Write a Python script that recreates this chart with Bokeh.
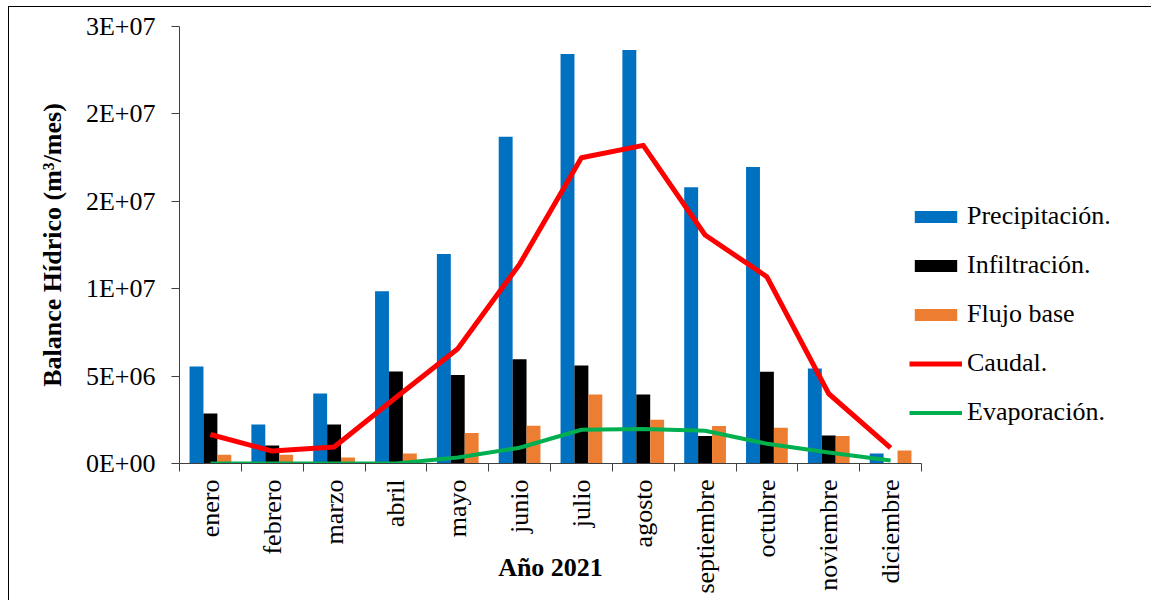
import math
from bokeh.plotting import figure
from bokeh.models import ColumnDataSource, FixedTicker, Legend, LegendItem
from bokeh.transform import dodge
from bokeh.embed import file_html
from bokeh.resources import INLINE

meses = ["enero", "febrero", "marzo", "abril", "mayo", "junio", "julio",
         "agosto", "septiembre", "octubre", "noviembre", "diciembre"]
precipitacion = [5.55e6, 2.23e6, 4.0e6, 9.86e6, 11.98e6, 18.69e6, 23.42e6,
                 23.65e6, 15.81e6, 16.96e6, 5.43e6, 0.57e6]
infiltracion = [2.86e6, 1.03e6, 2.23e6, 5.26e6, 5.06e6, 5.97e6, 5.6e6,
                3.95e6, 1.57e6, 5.25e6, 1.6e6, 0.0]
flujo_base = [0.5e6, 0.5e6, 0.34e6, 0.57e6, 1.74e6, 2.16e6, 3.95e6,
              2.5e6, 2.14e6, 2.04e6, 1.58e6, 0.74e6]
caudal = [1.66e6, 0.71e6, 0.94e6, 3.78e6, 6.56e6, 11.4e6, 17.49e6,
          18.2e6, 13.07e6, 10.68e6, 3.99e6, 0.9e6]
evaporacion = [0.0, 0.0, 0.0, 0.0, 0.34e6, 0.9e6, 1.93e6,
               1.98e6, 1.87e6, 1.13e6, 0.63e6, 0.17e6]
y_ticks = [0, 5e6, 1e7, 1.5e7, 2e7, 2.5e7]
y_tick_labels = ["0E+00", "5E+06", "1E+07", "2E+07", "2E+07", "3E+07"]

FONT = "Liberation Serif"
AXIS_COLOR = "#404040"

xpos = [i + 0.5 for i in range(len(meses))]
src = ColumnDataSource(dict(x=xpos, mes=meses, prec=precipitacion, inf=infiltracion,
                            fb=flujo_base, caudal=caudal, evap=evaporacion))

p = figure(frame_width=742, frame_height=437, min_border_left=170, min_border_top=19,
           min_border_right=229, min_border_bottom=138,
           x_range=(0, 12), y_range=(0, 2.5e7),
           output_backend="svg", toolbar_location=None)
p.styles = {"border": "1px solid #000000", "box-sizing": "border-box",
            "margin-left": "8px", "margin-top": "6px"}

bw = 0.225
r_prec = p.vbar(x=dodge("x", -bw, range=p.x_range), top="prec", width=bw, source=src,
                fill_color="#0070C0", line_color=None)
r_inf = p.vbar(x=dodge("x", 0, range=p.x_range), top="inf", width=bw, source=src,
               fill_color="#000000", line_color=None)
r_fb = p.vbar(x=dodge("x", bw, range=p.x_range), top="fb", width=bw, source=src,
              fill_color="#ED7D31", line_color=None)
r_caudal = p.line(x="x", y="caudal", source=src, line_color="#FF0000", line_width=5,
                  line_join="round")
r_evap = p.line(x="x", y="evap", source=src, line_color="#00B050", line_width=4,
                line_join="round")

p.xgrid.visible = False
p.ygrid.visible = False
p.outline_line_color = None

# x axis
xa = p.xaxis[0]
xa.ticker = FixedTicker(ticks=xpos, minor_ticks=list(range(13)))
xa.major_label_overrides = {x: m for x, m in zip(xpos, meses)}
xa.major_label_orientation = math.pi / 2
xa.major_tick_out = 0
xa.major_tick_in = 0
xa.minor_tick_out = 8
xa.minor_tick_in = 0
xa.minor_tick_line_color = AXIS_COLOR
xa.axis_line_color = AXIS_COLOR
xa.major_label_standoff = 8
xa.major_label_text_font = FONT
xa.major_label_text_font_size = "26px"
xa.major_label_text_color = "#000000"
xa.axis_label = "Año 2021"
xa.axis_label_text_font = FONT
xa.axis_label_text_font_size = "26px"
xa.axis_label_text_font_style = "bold"
xa.axis_label_text_color = "#000000"
xa.axis_label_standoff = -44

# y axis
ya = p.yaxis[0]
ya.ticker = FixedTicker(ticks=y_ticks, minor_ticks=[])
ya.major_label_overrides = {t: l for t, l in zip(y_ticks, y_tick_labels)}
ya.major_tick_out = 8
ya.major_tick_in = 0
ya.major_tick_line_color = AXIS_COLOR
ya.axis_line_color = AXIS_COLOR
ya.major_label_standoff = 16
ya.major_label_text_font = FONT
ya.major_label_text_font_size = "26px"
ya.major_label_text_color = "#000000"
ya.axis_label = "Balance Hídrico (m³/mes)"
ya.axis_label_text_font = FONT
ya.axis_label_text_font_size = "26px"
ya.axis_label_text_font_style = "bold"
ya.axis_label_text_color = "#000000"
ya.axis_label_standoff = 16

legend = Legend(items=[
    LegendItem(label="Precipitación.", renderers=[r_prec]),
    LegendItem(label="Infiltración.", renderers=[r_inf]),
    LegendItem(label="Flujo base", renderers=[r_fb]),
    LegendItem(label="Caudal.", renderers=[r_caudal]),
    LegendItem(label="Evaporación.", renderers=[r_evap]),
], location=(-12, 36))
legend.glyph_width = 53
legend.glyph_height = 15
legend.label_height = 26
legend.spacing = 19
legend.padding = 0
legend.margin = 0
legend.label_standoff = 5
legend.border_line_color = None
legend.background_fill_alpha = 0
legend.label_text_font = FONT
legend.label_text_font_size = "26px"
legend.label_text_color = "#000000"
p.add_layout(legend, "right")

open("out.html", "w").write(file_html(p, INLINE))
